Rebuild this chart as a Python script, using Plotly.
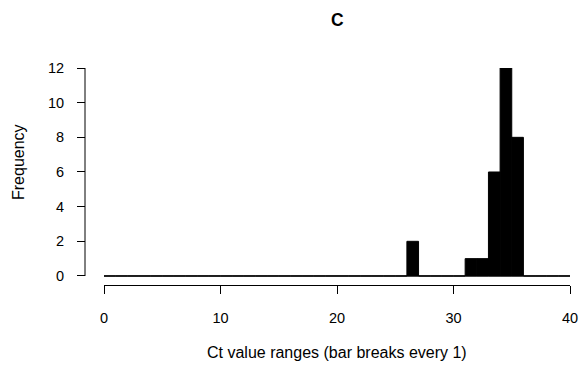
import plotly.graph_objects as go

# Histogram data: breaks every 1 from 0 to 40
breaks = list(range(0, 41))
counts = [0]*26 + [2] + [0]*4 + [1, 1, 6, 12, 8] + [0]*4
title_text = "C"
x_title = "Ct value ranges (bar breaks every 1)"
y_title = "Frequency"
x_ticks = [0, 10, 20, 30, 40]
y_ticks = [0, 2, 4, 6, 8, 10, 12]

centers = [(breaks[i] + breaks[i+1]) / 2 for i in range(len(counts))]

W, H = 582, 368
ml, mr, mt, mb = 85, W - 570, 68, H - 285
pw = W - ml - mr
ph = H - mt - mb

def px_x(p):  # page pixel -> paper fraction
    return (p - ml) / pw

def px_y(p):
    return (H - mb - p) / ph

fig = go.Figure()
fig.add_trace(go.Bar(x=centers, y=counts, width=1,
                     marker=dict(color="black", line=dict(color="black", width=1)),
                     showlegend=False, hoverinfo="skip"))
# zero-height bars outline (baseline)
fig.add_trace(go.Scatter(x=[breaks[0], breaks[-1]], y=[0, 0], mode="lines",
                         line=dict(color="black", width=1), showlegend=False,
                         hoverinfo="skip", cliponaxis=False))

font = dict(family="Liberation Sans, Arial, sans-serif", size=14.5, color="black")

fig.update_layout(
    width=W, height=H,
    margin=dict(l=ml, r=mr, t=mt, b=mb, autoexpand=False),
    paper_bgcolor="white", plot_bgcolor="white",
    font=font,
    bargap=0,
    xaxis=dict(domain=[(104 - 85) / pw, 1], range=[0, 40], tickvals=x_ticks,
               showline=True, linecolor="black", linewidth=1,
               ticks="outside", ticklen=8, tickcolor="black", tickwidth=1,
               ticklabelstandoff=12, automargin=False,
               showgrid=False, zeroline=False, fixedrange=True),
    yaxis=dict(anchor="free", position=0, range=[-0.52, 12], tickvals=y_ticks,
               showline=False, ticks="outside", ticklen=8, tickcolor="black",
               tickwidth=1, ticklabelstandoff=10, automargin=False,
               showgrid=False, zeroline=False),
    shapes=[dict(type="line", xref="paper", yref="y", x0=0, x1=0, y0=0, y1=12,
                 line=dict(color="black", width=1))],
    annotations=[
        dict(text="<b>" + title_text + "</b>", x=px_x(337), y=px_y(20),
             xref="paper", yref="paper", xanchor="center", yanchor="middle",
             showarrow=False, font=dict(size=17.5)),
        dict(text=x_title, x=px_x(337), y=px_y(352),
             xref="paper", yref="paper", xanchor="center", yanchor="middle",
             showarrow=False, font=dict(size=16)),
        dict(text=y_title, x=px_x(18), y=px_y(162),
             xref="paper", yref="paper", xanchor="center", yanchor="middle",
             showarrow=False, textangle=-90, font=dict(size=16)),
    ],
)

fig.write_html("out.html",
               config={"displayModeBar": False, "staticPlot": True},
               post_script="document.body.style.margin='0';document.body.style.overflow='hidden';")
